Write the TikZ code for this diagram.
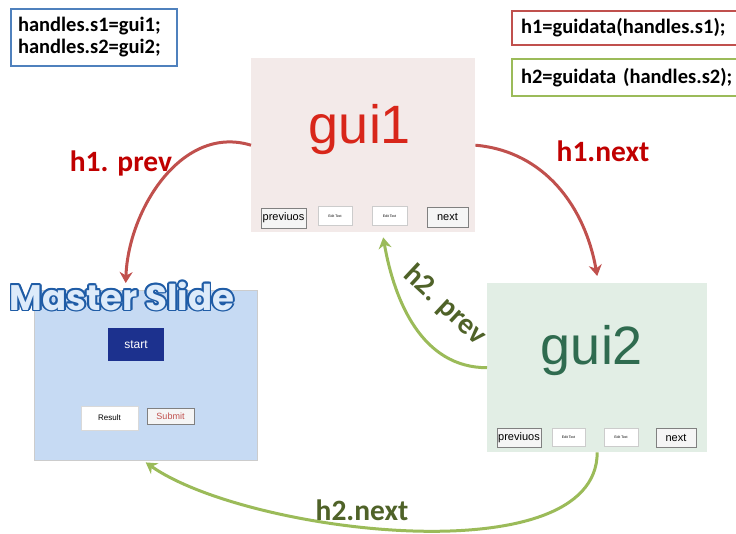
\documentclass[tikz,border=0pt]{standalone}
\usepackage{fontspec}
\setmainfont{Carlito}
\newfontfamily\arialfont{Liberation Sans}
\newfontfamily\titlefont{Poppins}
\usetikzlibrary{arrows.meta}
\definecolor{boxblue}{HTML}{4F81BD}
\definecolor{boxred}{HTML}{C0504D}
\definecolor{boxgreen}{HTML}{9BBB59}
\definecolor{labred}{HTML}{C00000}
\definecolor{labgreen}{HTML}{4F6228}
\definecolor{guipink}{HTML}{F3EAE9}
\definecolor{guigreen}{HTML}{E2EEE5}
\definecolor{masterblue}{HTML}{C6DAF3}
\definecolor{guired}{HTML}{D8261A}
\definecolor{guidark}{HTML}{2F6B4F}
\definecolor{startblue}{HTML}{1C318E}
\definecolor{titleblue}{HTML}{1F5CA6}
\definecolor{titlefill}{HTML}{DDEBFA}

\tikzset{
  codebox/.style={draw, line width=2pt, fill=white, align=left,
    font=\fontsize{20.5}{22}\selectfont\bfseries},
  panel/.style={inner sep=0pt, anchor=north west},
  btn/.style={draw=gray, fill=gray!8, inner sep=0pt,
    font=\arialfont\fontsize{11}{11}\selectfont},
  editbox/.style={draw=gray!40, fill=white, inner sep=0pt,
    font=\arialfont\fontsize{3.5}{4}\selectfont},
  link/.style={line width=3pt, -{Stealth[length=11pt,width=13pt]}},
  lbl/.style={font=\fontsize{29.5}{32}\selectfont\bfseries},
  guititle/.style={font=\arialfont\fontsize{54}{54}\selectfont},
  mastertitle/.style={font=\titlefont\fontsize{35.5}{36}\selectfont\bfseries},
}

\begin{document}
\begin{tikzpicture}[x=1pt, y=-1pt]
  \useasboundingbox (0,0) rectangle (736,533);
  \clip (0,0) rectangle (736,533);

  % Code boxes
  \node[codebox, draw=boxblue, anchor=north west, minimum height=57, text width=152, inner xsep=7] (setbox) at (10,8) {handles.s1=gui1;\\handles.s2=gui2;};
  \node[codebox, draw=boxred, anchor=north west, minimum height=34, text width=225, inner xsep=9] (h1box) at (511,10) {h1=guidata(handles.s1);};
  \node[codebox, draw=boxgreen, anchor=north west, minimum height=37, text width=225, inner xsep=9] (h2box) at (511,58) {h2=guidata (handles.s2);};

  % gui1 window
  \node[panel, fill=guipink, minimum width=224, minimum height=174] (gui1) at (251,58) {};
  \node[guititle, text=guired] (gui1name) at (360,130) {gui1};
  \node[btn, minimum width=45, minimum height=20] (gui1prev) at (283.5,218) {previuos};
  \node[editbox, minimum width=34, minimum height=19] (gui1editA) at (335,216) {Edit Text};
  \node[editbox, minimum width=35, minimum height=19] (gui1editB) at (389.5,216) {Edit Text};
  \node[btn, minimum width=41, minimum height=20] (gui1next) at (447.5,217) {next};

  % gui2 window
  \node[panel, fill=guigreen, minimum width=220, minimum height=169] (gui2) at (487,283) {};
  \node[guititle, text=guidark] (gui2name) at (592,351) {gui2};
  \node[btn, minimum width=44, minimum height=19] (gui2prev) at (519,438) {previuos};
  \node[editbox, minimum width=33, minimum height=18] (gui2editA) at (568.5,437) {Edit Text};
  \node[editbox, minimum width=34, minimum height=18] (gui2editB) at (621,437) {Edit Text};
  \node[btn, minimum width=40, minimum height=19] (gui2next) at (676,438) {next};

  % Master slide
  \node[panel, fill=masterblue, draw=gray!40, minimum width=223, minimum height=170] (master) at (34,290) {};
  \node[fill=startblue, text=white, inner sep=0pt, minimum width=56, minimum height=33,
    font=\arialfont\fontsize{12}{12}\selectfont] (start) at (136,344.5) {start};
  \node[fill=white, draw=gray!30, inner sep=0pt, minimum width=57, minimum height=24,
    font=\arialfont\fontsize{8}{8}\selectfont] (result) at (109.5,418) {Result};
  \node[btn, text=boxred, minimum width=47, minimum height=16,
    font=\arialfont\fontsize{9}{9}\selectfont] (submit) at (170.5,416) {Submit};
  \foreach \a in {0,30,...,330}
    \node[mastertitle, text=titleblue, shift={(\a:1.8pt)}] at (122,296) {Master Slide};
  \node[mastertitle, text=titlefill] (title) at (122,296) {Master Slide};

  % Connectors
  \draw[link, draw=boxred] (gui1.west) to[out=163, in=88] ([xshift=-20pt, yshift=7pt]master.north);
  \draw[link, draw=boxred] (gui1.east) to[out=-5, in=100] ([yshift=7pt]gui2.north);
  \draw[link, draw=boxgreen] (gui2.west) to[out=180, in=-80] ([xshift=20pt, yshift=-5pt]gui1.south);
  \draw[link, draw=boxgreen] (gui2.south) to[out=-90, in=-35, looseness=0.7] ([yshift=-2pt]master.south);

  % Labels
  \node[lbl, text=labred] (prevone) at (121,163) {h1. prev};
  \node[lbl, text=labred] (nextone) at (603,151) {h1.next};
  \node[lbl, text=labgreen, rotate=-43] (prevtwo) at (445,305) {h2. prev};
  \node[lbl, text=labgreen] (nexttwo) at (362,510) {h2.next};
\end{tikzpicture}
\end{document}
